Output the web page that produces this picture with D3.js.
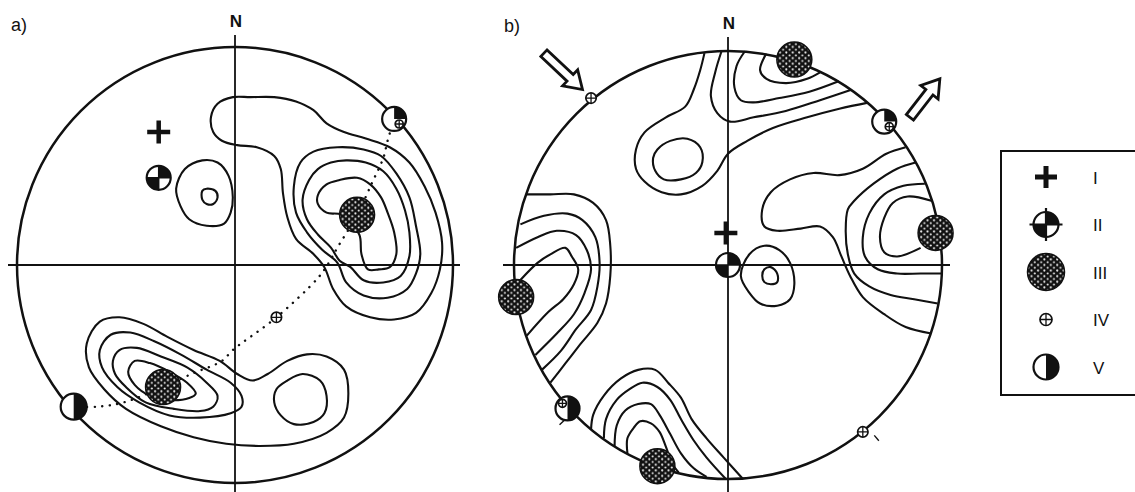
<!DOCTYPE html>
<html>
<head>
<meta charset="utf-8">
<script src="https://cdn.jsdelivr.net/npm/d3@7"></script>
<style>
  body { margin: 0; background: #fff; }
  text { font-family: "Liberation Sans", Arial, sans-serif; fill: #111; }
</style>
</head>
<body>
<svg id="chart" width="1135" height="492"></svg>
<script>
// all net coordinates are % of the net radius, x = east, y = north

// panel a) contour lines
const contoursA = [
  { closed: true, pts: [[-1,77],[-8,74],[-11,68],[-10,61],[-6,57],[1,55],[10,54],[18,50],[21,44],[22,33],[24,22],[28,12],[36,5],[41,-1],[45,-11],[51,-19],[62,-24],[73,-25],[83,-22],[90,-13],[94,-2],[95,10],[92,24],[87,36],[80,47],[71,54],[60,58],[50,61],[42,65],[36,71],[28,75],[18,77],[7,77]] },
  { closed: true, pts: [[36,52],[47,54],[59,53],[67,50],[74,42],[80,31],[83,18],[85,5],[83,-4],[79,-11],[70,-15],[59,-14],[51,-8],[47,1],[40,7],[33,15],[28,24],[27,36],[30,47]] },
  { closed: true, pts: [[44,47],[51,48],[60,47],[68,43],[74,35],[78,25],[80,15],[80,4],[76,-5],[68,-8],[59,-7],[53,-1],[48,2],[44,8],[38,14],[33,21],[31,30],[34,39],[38,44]] },
  { closed: true, pts: [[57,14],[58,5],[61,-2],[66,-2],[71,-1],[74,5],[73,15],[70,24],[67,31],[62,37],[56,40],[48,39],[42,37],[38,32],[38,28],[42,24],[49,23]] },
  { closed: true, pts: [[-27,35],[-23,44],[-15,48],[-8,47],[-3,41],[-1,31],[-2,24],[-5,19],[-13,18],[-21,21],[-25,27]] },
  { closed: true, pts: [[-15,34],[-13,35],[-9,34],[-8,31],[-10,28],[-13,28],[-15,30]] },
  { closed: true, pts: [[-67,-47],[-68,-36],[-62,-26],[-53,-24],[-42,-27],[-31,-33],[-19,-39],[-7,-44],[1,-50],[8,-53],[15,-50],[24,-44],[33,-41],[42,-42],[50,-48],[52,-59],[50,-70],[42,-77],[27,-82],[11,-83],[-4,-82],[-19,-79],[-34,-74],[-50,-66],[-60,-57]] },
  { closed: true, pts: [[-61,-47],[-62,-39],[-57,-32],[-48,-31],[-37,-35],[-25,-41],[-13,-48],[-2,-54],[3,-60],[3,-65],[-2,-68],[-16,-70],[-30,-69],[-44,-63],[-54,-56]] },
  { closed: true, pts: [[-55,-50],[-56,-44],[-53,-39],[-45,-38],[-34,-42],[-22,-47],[-13,-54],[-8,-60],[-10,-65],[-16,-67],[-28,-66],[-41,-63],[-50,-56]] },
  { closed: true, pts: [[-49,-49],[-46,-44],[-39,-45],[-30,-49],[-22,-54],[-18,-59],[-21,-61],[-30,-62],[-39,-60],[-46,-55]] },
  { closed: true, pts: [[18,-63],[19,-57],[24,-53],[31,-50],[39,-53],[42,-60],[41,-68],[36,-72],[27,-73],[21,-69]] }
];

// panel a) dotted great circle through the maxima
const girdleA = [[73,67],[70,57],[68,49],[63,38],[56,23],[47,8],[43,1],[38,-6],[19,-24],[-1,-39],[-6,-44],[-20,-50],[-33,-56],[-51,-63],[-63,-65],[-74,-65]];

const symbolsA = [
  { type: "I", x: -35, y: 61 },
  { type: "II", x: -35, y: 40 },
  { type: "III", x: 56, y: 23 },
  { type: "III", x: -33, y: -56 },
  { type: "IV", x: 19, y: -24 },
  { type: "V", x: -74, y: -65 },
  { type: "VIVa", x: 73, y: 67 }
];

// panel b) contour lines
const contoursB = [
  { closed: false, pts: [[18,99],[15,91],[18,87],[27,85],[37,87],[43,90]] },
  { closed: false, pts: [[8,100],[4,93],[3,83],[6,77],[12,76],[24,78],[38,81],[52,86]] },
  { closed: false, pts: [[-3,100],[-6,90],[-8,79],[-5,71],[1,67],[12,69],[27,72],[43,77],[58,82]] },
  { closed: false, pts: [[-11,99],[-13,91],[-16,82],[-20,74],[-29,69],[-39,62],[-43,54],[-43,45],[-39,39],[-31,34],[-22,33],[-12,37],[-5,44],[0,52],[9,58],[21,64],[37,69],[52,73],[66,76]] },
  { closed: true, pts: [[-33,54],[-27,58],[-19,59],[-13,55],[-12,48],[-15,43],[-22,40],[-30,40],[-34,44],[-35,50]] },
  { closed: false, pts: [[-94,33],[-83,33],[-72,33],[-63,29],[-57,21],[-55,9],[-55,-5],[-57,-18],[-61,-27],[-69,-37],[-76,-46],[-83,-55]] },
  { closed: false, pts: [[-97,19],[-86,23],[-75,24],[-68,21],[-62,13],[-60,1],[-61,-10],[-64,-21],[-71,-30],[-78,-40],[-87,-49]] },
  { closed: false, pts: [[-99,8],[-89,13],[-80,16],[-71,14],[-66,7],[-64,-2],[-67,-13],[-72,-23],[-80,-32],[-90,-42]] },
  { closed: false, pts: [[-97,-7],[-89,1],[-83,5],[-76,8],[-73,4],[-70,-2],[-72,-9],[-77,-16],[-84,-22],[-94,-33]] },
  { closed: false, pts: [[83,55],[74,52],[63,45],[52,42],[40,43],[29,40],[20,34],[16,26],[17,18],[23,16],[34,17],[43,18],[49,13],[53,4],[57,-5],[63,-15],[73,-23],[83,-29],[95,-32]] },
  { closed: false, pts: [[88,48],[79,45],[68,38],[59,30],[56,26],[55,16],[56,5],[59,-4],[66,-10],[76,-14],[87,-16],[98,-18]] },
  { closed: false, pts: [[92,38],[82,37],[73,33],[66,24],[63,13],[64,4],[70,-2],[79,-4],[90,-4],[100,-4]] },
  { closed: false, pts: [[95,30],[84,32],[77,29],[73,22],[71,13],[73,6],[79,4],[90,8]] },
  { closed: true, pts: [[6,-5],[10,5],[17,9],[24,7],[29,1],[31,-9],[29,-16],[23,-19],[15,-18],[10,-13]] },
  { closed: true, pts: [[16,-5],[17,-2],[20,-1],[23,-4],[23,-8],[20,-9],[17,-8]] },
  { closed: false, pts: [[-64,-77],[-63,-70],[-58,-61],[-50,-53],[-42,-49],[-34,-49],[-28,-55],[-22,-62],[-17,-72],[-10,-81],[-2,-90],[7,-100]] },
  { closed: false, pts: [[-58,-81],[-57,-72],[-52,-63],[-46,-58],[-40,-55],[-33,-57],[-27,-63],[-22,-72],[-16,-82],[-10,-90],[-1,-100]] },
  { closed: false, pts: [[-53,-85],[-52,-75],[-48,-68],[-42,-65],[-36,-65],[-32,-70],[-27,-79],[-22,-88],[-16,-95],[-10,-99]] },
  { closed: false, pts: [[-47,-88],[-47,-81],[-44,-76],[-41,-73],[-36,-74],[-32,-78],[-29,-85],[-26,-93],[-23,-97]] }
];

const symbolsB = [
  { type: "IV", x: -64, y: 78 },
  { type: "III", x: 31, y: 96 },
  { type: "VIVa", x: 73, y: 67 },
  { type: "III", x: 97, y: 15 },
  { type: "III", x: -99, y: -15 },
  { type: "VIVb", x: -75, y: -67, tick: true },
  { type: "III", x: -33, y: -94 },
  { type: "IV", x: 63, y: -78, tick: true },
  { type: "I", x: -1, y: 15 },
  { type: "II", x: 0, y: 0 }
];

// stress arrows of panel b) (tail -> tip)
const arrowsB = [
  { from: [-86, 99], to: [-68, 82] },
  { from: [85, 69], to: [99, 87] }
];

const legendTypes = ["I", "II", "III", "IV", "V"];
const legendLabels = ["I", "II", "III", "IV", "V"];

const panels = [
  { label: "a)", cx: 235, cy: 265, r: 218, contours: contoursA, symbols: symbolsA, girdle: girdleA, arrows: [],
    hLine: [-227, 225], vTop: -230, labelX: 11, labelY: 31 },
  { label: "b)", cx: 728, cy: 265, r: 214, contours: contoursB, symbols: symbolsB, girdle: [], arrows: arrowsB,
    hLine: [-225, 222], vTop: -228, labelX: 504, labelY: 32 }
];

const ink = "#111";
const svg = d3.select("#chart");
const defs = svg.append("defs");

// stippled fill for symbol III
const stip = defs.append("pattern")
    .attr("id", "stip")
    .attr("patternUnits", "userSpaceOnUse")
    .attr("width", 6.4)
    .attr("height", 5.6);
stip.append("rect").attr("width", 6.4).attr("height", 5.6).attr("fill", ink);
stip.append("circle").attr("cx", 1.6).attr("cy", 1.4).attr("r", 1.05).attr("fill", "#f2f2f2");
stip.append("circle").attr("cx", 4.8).attr("cy", 4.2).attr("r", 1.05).attr("fill", "#f2f2f2");

function smallCross(g, x, y, r) {
    g.append("circle").attr("cx", x).attr("cy", y).attr("r", r)
        .attr("fill", "#fff").attr("stroke", ink).attr("stroke-width", 1.7);
    g.append("path")
        .attr("d", `M${x - r},${y}H${x + r}M${x},${y - r}V${y + r}`)
        .attr("stroke", ink).attr("stroke-width", 1.3);
}

function drawSymbol(g, type, x, y, big) {
    const s = g.append("g").attr("transform", `translate(${x},${y})`);
    if (type === "I") {
        const a = big ? 11 : 11.5;
        s.append("path").attr("d", `M${-a},0H${a}M0,${-a}V${a}`)
            .attr("stroke", ink).attr("stroke-width", big ? 5 : 4.5);
    } else if (type === "II") {
        const r = big ? 12.5 : 12;
        s.append("circle").attr("r", r).attr("fill", "#fff").attr("stroke", ink).attr("stroke-width", 2.2);
        s.append("path")
            .attr("d", `M0,0V${-r}A${r},${r} 0 0 1 ${r},0ZM0,0V${r}A${r},${r} 0 0 1 ${-r},0Z`)
            .attr("fill", ink);
        const e = r + (big ? 4 : 0);
        s.append("path").attr("d", `M${-e},0H${e}M0,${-e}V${e}`)
            .attr("stroke", ink).attr("stroke-width", big ? 2.2 : 1.5);
    } else if (type === "III") {
        s.append("circle").attr("r", big ? 18.5 : 17.5)
            .attr("fill", "url(#stip)").attr("stroke", ink).attr("stroke-width", 1.5);
    } else if (type === "IV") {
        smallCross(s, 0, 0, big ? 6 : 5.2);
    } else if (type === "V") {
        const r = big ? 12.5 : 13;
        s.append("circle").attr("r", r).attr("fill", "#fff").attr("stroke", ink).attr("stroke-width", 2.2);
        s.append("path").attr("d", `M0,${-r}A${r},${r} 0 0 1 0,${r}Z`).attr("fill", ink);
    } else if (type === "VIVa" || type === "VIVb") {
        const r = 12;
        s.append("circle").attr("r", r).attr("fill", "#fff").attr("stroke", ink).attr("stroke-width", 2.2);
        if (type === "VIVa") {
            s.append("path").attr("d", `M0,0V${-r}A${r},${r} 0 0 1 ${r},0Z`).attr("fill", ink);
            smallCross(s, r * 0.42, r * 0.42, 4);
        } else {
            s.append("path").attr("d", `M0,${-r}A${r},${r} 0 0 1 0,${r}Z`).attr("fill", ink);
            smallCross(s, -r * 0.42, -r * 0.42, 4);
        }
    }
}

panels.forEach((p, i) => {
    const x = d3.scaleLinear().domain([-100, 100]).range([p.cx - p.r, p.cx + p.r]);
    const y = d3.scaleLinear().domain([-100, 100]).range([p.cy + p.r, p.cy - p.r]);
    const g = svg.append("g");

    defs.append("clipPath").attr("id", "net" + i)
        .append("circle").attr("cx", p.cx).attr("cy", p.cy).attr("r", p.r + 1);

    // density contours
    const open = d3.line().x(d => x(d[0])).y(d => y(d[1])).curve(d3.curveCatmullRom.alpha(0.5));
    const loop = d3.line().x(d => x(d[0])).y(d => y(d[1])).curve(d3.curveCatmullRomClosed.alpha(0.5));
    g.append("g").attr("clip-path", `url(#net${i})`)
        .selectAll("path")
        .data(p.contours)
        .join("path")
        .attr("d", d => (d.closed ? loop : open)(d.pts))
        .attr("fill", "none")
        .attr("stroke", ink)
        .attr("stroke-width", 2.1)
        .attr("stroke-linejoin", "round");

    // primitive circle and N-S / E-W lines
    g.append("circle").attr("cx", p.cx).attr("cy", p.cy).attr("r", p.r)
        .attr("fill", "none").attr("stroke", ink).attr("stroke-width", 2.5);
    g.append("line")
        .attr("x1", p.cx + p.hLine[0]).attr("x2", p.cx + p.hLine[1])
        .attr("y1", p.cy).attr("y2", p.cy)
        .attr("stroke", ink).attr("stroke-width", 2);
    g.append("line")
        .attr("x1", p.cx).attr("x2", p.cx)
        .attr("y1", p.cy + p.vTop).attr("y2", 492)
        .attr("stroke", ink).attr("stroke-width", 1.8);

    g.append("text").attr("x", p.cx + 1).attr("y", p.cy + p.vTop - 8)
        .attr("text-anchor", "middle").attr("font-size", 17).attr("font-weight", "bold")
        .text("N");
    g.append("text").attr("x", p.labelX).attr("y", p.labelY)
        .attr("font-size", 18).text(p.label);

    // dotted girdle
    if (p.girdle.length) {
        g.append("path")
            .attr("d", open(p.girdle))
            .attr("fill", "none")
            .attr("stroke", ink)
            .attr("stroke-width", 2.4)
            .attr("stroke-linecap", "round")
            .attr("stroke-dasharray", "0.1,7.5");
    }

    // hollow arrows
    p.arrows.forEach(a => {
        const tx = x(a.from[0]), ty = y(a.from[1]);
        const px = x(a.to[0]), py = y(a.to[1]);
        const len = Math.hypot(px - tx, py - ty);
        const dx = (px - tx) / len, dy = (py - ty) / len;
        const nx = -dy, ny = dx;
        const sw = 4.5, hw = 11, hl = 17;
        const bx = px - dx * hl, by = py - dy * hl;
        const pts = [
            [tx + nx * sw, ty + ny * sw], [bx + nx * sw, by + ny * sw], [bx + nx * hw, by + ny * hw],
            [px, py],
            [bx - nx * hw, by - ny * hw], [bx - nx * sw, by - ny * sw], [tx - nx * sw, ty - ny * sw]
        ];
        g.append("path")
            .attr("d", "M" + pts.map(q => q.join(",")).join("L") + "Z")
            .attr("fill", "#fff").attr("stroke", ink).attr("stroke-width", 2.8)
            .attr("stroke-linejoin", "miter");
    });

    // symbols
    p.symbols.forEach(d => {
        const sx = x(d.x), sy = y(d.y);
        if (d.tick) {
            const ang = Math.atan2(sy - p.cy, sx - p.cx);
            const r0 = Math.hypot(sx - p.cx, sy - p.cy);
            g.append("line")
                .attr("x1", p.cx + Math.cos(ang - 0.03) * (r0 + 10)).attr("y1", p.cy + Math.sin(ang - 0.03) * (r0 + 10))
                .attr("x2", p.cx + Math.cos(ang - 0.03) * (r0 + 17)).attr("y2", p.cy + Math.sin(ang - 0.03) * (r0 + 17))
                .attr("stroke", ink).attr("stroke-width", 1.4);
        }
        drawSymbol(g, d.type, sx, sy, false);
    });
});

// legend
const lg = svg.append("g");
lg.append("rect").attr("x", 1001).attr("y", 151).attr("width", 160).attr("height", 244)
    .attr("fill", "#fff").attr("stroke", ink).attr("stroke-width", 2);
const ly = d3.scalePoint().domain(legendTypes).range([177, 367]);
legendTypes.forEach((t, i) => {
    drawSymbol(lg, t, 1046, ly(t), true);
    lg.append("text").attr("x", 1093).attr("y", ly(t) + 6.5)
        .attr("font-size", 17).text(legendLabels[i]);
});
</script>
</body>
</html>
